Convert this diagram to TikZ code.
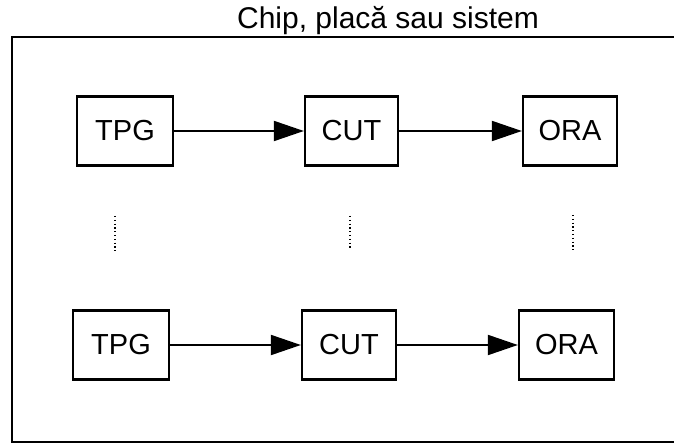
\documentclass[tikz,border=0pt]{standalone}
\usepackage{fontspec}
\setmainfont{Liberation Sans}
\usetikzlibrary{arrows.meta}
\begin{document}
\begin{tikzpicture}[x=1pt,y=-1pt,
  blk/.style={draw,line width=2.3pt,minimum height=69pt,inner sep=0pt,font=\fontsize{29}{29}\selectfont},
  conn/.style={line width=2pt,-{Triangle[length=30pt,width=20pt]}},
  dots/.style={line width=2pt,dash pattern=on 1.2pt off 2.6pt},
  frame/.style={line width=2.6pt,line join=miter}]
\useasboundingbox (0,0) rectangle (674,446);
% title
\node[font=\fontsize{30}{30}\selectfont,anchor=base] (title) at (388,29) {Chip, placă sau sistem};
% outer frame (right side lies outside the picture)
\coordinate (ftr) at (676,37);
\coordinate (ftl) at (12,37);
\coordinate (fbl) at (12,442);
\coordinate (fbr) at (676,442);
\draw[frame] (ftr) -- (ftl) -- (fbl) -- (fbr);
% top row
\node[blk,minimum width=96pt] (tpgA) at (125,131) {TPG};
\node[blk,minimum width=93pt] (cutA) at (351.5,131) {CUT};
\node[blk,minimum width=94pt] (oraA) at (570,131) {ORA};
\draw[conn] (tpgA) -- (cutA);
\draw[conn] (cutA) -- (oraA);
% bottom row
\node[blk,minimum width=96pt] (tpgB) at (121,345) {TPG};
\node[blk,minimum width=94pt] (cutB) at (349,345) {CUT};
\node[blk,minimum width=95pt] (oraB) at (566.5,345) {ORA};
\draw[conn] (tpgB) -- (cutB);
\draw[conn] (cutB) -- (oraB);
% dotted continuation marks
\coordinate (d1a) at (115,216); \coordinate (d1b) at (115,251);
\coordinate (d2a) at (350,216); \coordinate (d2b) at (350,249);
\coordinate (d3a) at (573,215); \coordinate (d3b) at (573,250);
\draw[dots] (d1a) -- (d1b);
\draw[dots] (d2a) -- (d2b);
\draw[dots] (d3a) -- (d3b);
\end{tikzpicture}
\end{document}
